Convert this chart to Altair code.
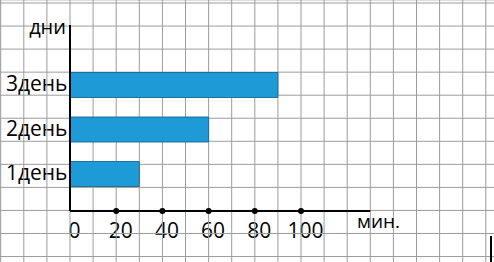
import altair as alt
import pandas as pd

# Data
days = ["3день", "2день", "1день"]
minutes = [90, 60, 30]
tick_values = [0, 20, 40, 60, 80, 100]
x_axis_end = 130          # x axis line runs to about 130 min
y_title = "дни"
x_title = "мин."

W, H = 494, 262
# x scale: 0 min at pixel ~70, 10 min = one grid cell (~23.1 px)
cell = 23.1
x0_px = 70
x_domain = [-x0_px / cell * 10, (W - x0_px) / cell * 10]

bars_df = pd.DataFrame({"day": days, "minutes": minutes})
ticks_df = pd.DataFrame({"t": tick_values})
vgrid_df = pd.DataFrame({"gx": list(range(-30, 190, 10))})
hgrid_df = pd.DataFrame({"gy": list(range(0, 12))})

xs = alt.Scale(domain=x_domain, nice=False, zero=False)
font = "Open Sans"
grid_color = "#9c9c9c"

x_axis = alt.Axis(values=tick_values, orient="bottom", offset=-(H - 211),
                  domain=False, ticks=False, grid=False, title=None,
                  labelFont=font, labelFontSize=21, labelColor="black",
                  labelPadding=9, labelOffset=4, labelFlush=False)

vgrid = alt.Chart(vgrid_df).mark_rule(color=grid_color, strokeWidth=1).encode(
    x=alt.X("gx:Q", scale=xs, axis=x_axis),
    y=alt.value(0), y2=alt.value(H),
)

hgrid = alt.Chart(hgrid_df).mark_rule(color=grid_color, strokeWidth=1).encode(
    y=alt.Y("gy:Q", scale=alt.Scale(domain=[-0.13, -0.13 + H / 23.05], range=[0, H], nice=False, zero=False), axis=None),
    x=alt.value(0), x2=alt.value(W),
)

bars = alt.Chart(bars_df).mark_bar(
    color="#1E9BD7", stroke="#1B6E9E", strokeWidth=1
).encode(
    x=alt.X("minutes:Q", scale=xs, axis=x_axis),
    x2=alt.datum(0),
    y=alt.Y("day:N", sort=days,
            scale=alt.Scale(domain=days, range=[62.75, 196.25], paddingInner=0.44, paddingOuter=0.22),
            axis=alt.Axis(orient="left", offset=-x0_px, domain=False, ticks=False, grid=False,
                          title=None, labelFont=font, labelFontSize=21, labelColor="black",
                          labelPadding=3)),
)

# axis lines
yaxis_line = alt.Chart(ticks_df.head(1)).mark_rule(color="black", strokeWidth=2).encode(
    x=alt.X("t:Q", scale=xs, axis=x_axis), y=alt.value(25), y2=alt.value(211),
)
xaxis_line = alt.Chart(pd.DataFrame({"a": [0], "b": [x_axis_end]})).mark_rule(color="black", strokeWidth=2).encode(
    x=alt.X("a:Q", scale=xs, axis=x_axis), x2="b:Q", y=alt.value(211),
)
dots = alt.Chart(ticks_df[ticks_df.t > 0]).mark_point(filled=True, color="black", size=36, opacity=1).encode(
    x=alt.X("t:Q", scale=xs, axis=x_axis), y=alt.value(211),
)

ytitle = alt.Chart(pd.DataFrame({"s": [y_title]})).mark_text(
    font=font, fontSize=20, color="black", align="right", baseline="alphabetic"
).encode(text="s:N", x=alt.value(66), y=alt.value(34))

xtitle = alt.Chart(pd.DataFrame({"s": [x_title]})).mark_text(
    font=font, fontSize=19, color="black", align="left", baseline="alphabetic"
).encode(text="s:N", x=alt.value(357), y=alt.value(228))

edge = alt.Chart(ticks_df.head(1)).mark_rule(color="black", strokeWidth=2).encode(
    x=alt.value(491), y=alt.value(236), y2=alt.value(H),
)

chart = alt.layer(
    vgrid, hgrid, bars, yaxis_line, xaxis_line, dots, ytitle, xtitle, edge
).resolve_scale(y="independent").properties(
    width=W, height=H, padding=0, autosize=alt.AutoSizeParams(type="none")
).configure_view(stroke=None).configure(background="white").configure_axisX(
    labelFontSize=21, labelFont=font
)

chart.save("out.html", embed_options={"renderer": "svg", "actions": False})
